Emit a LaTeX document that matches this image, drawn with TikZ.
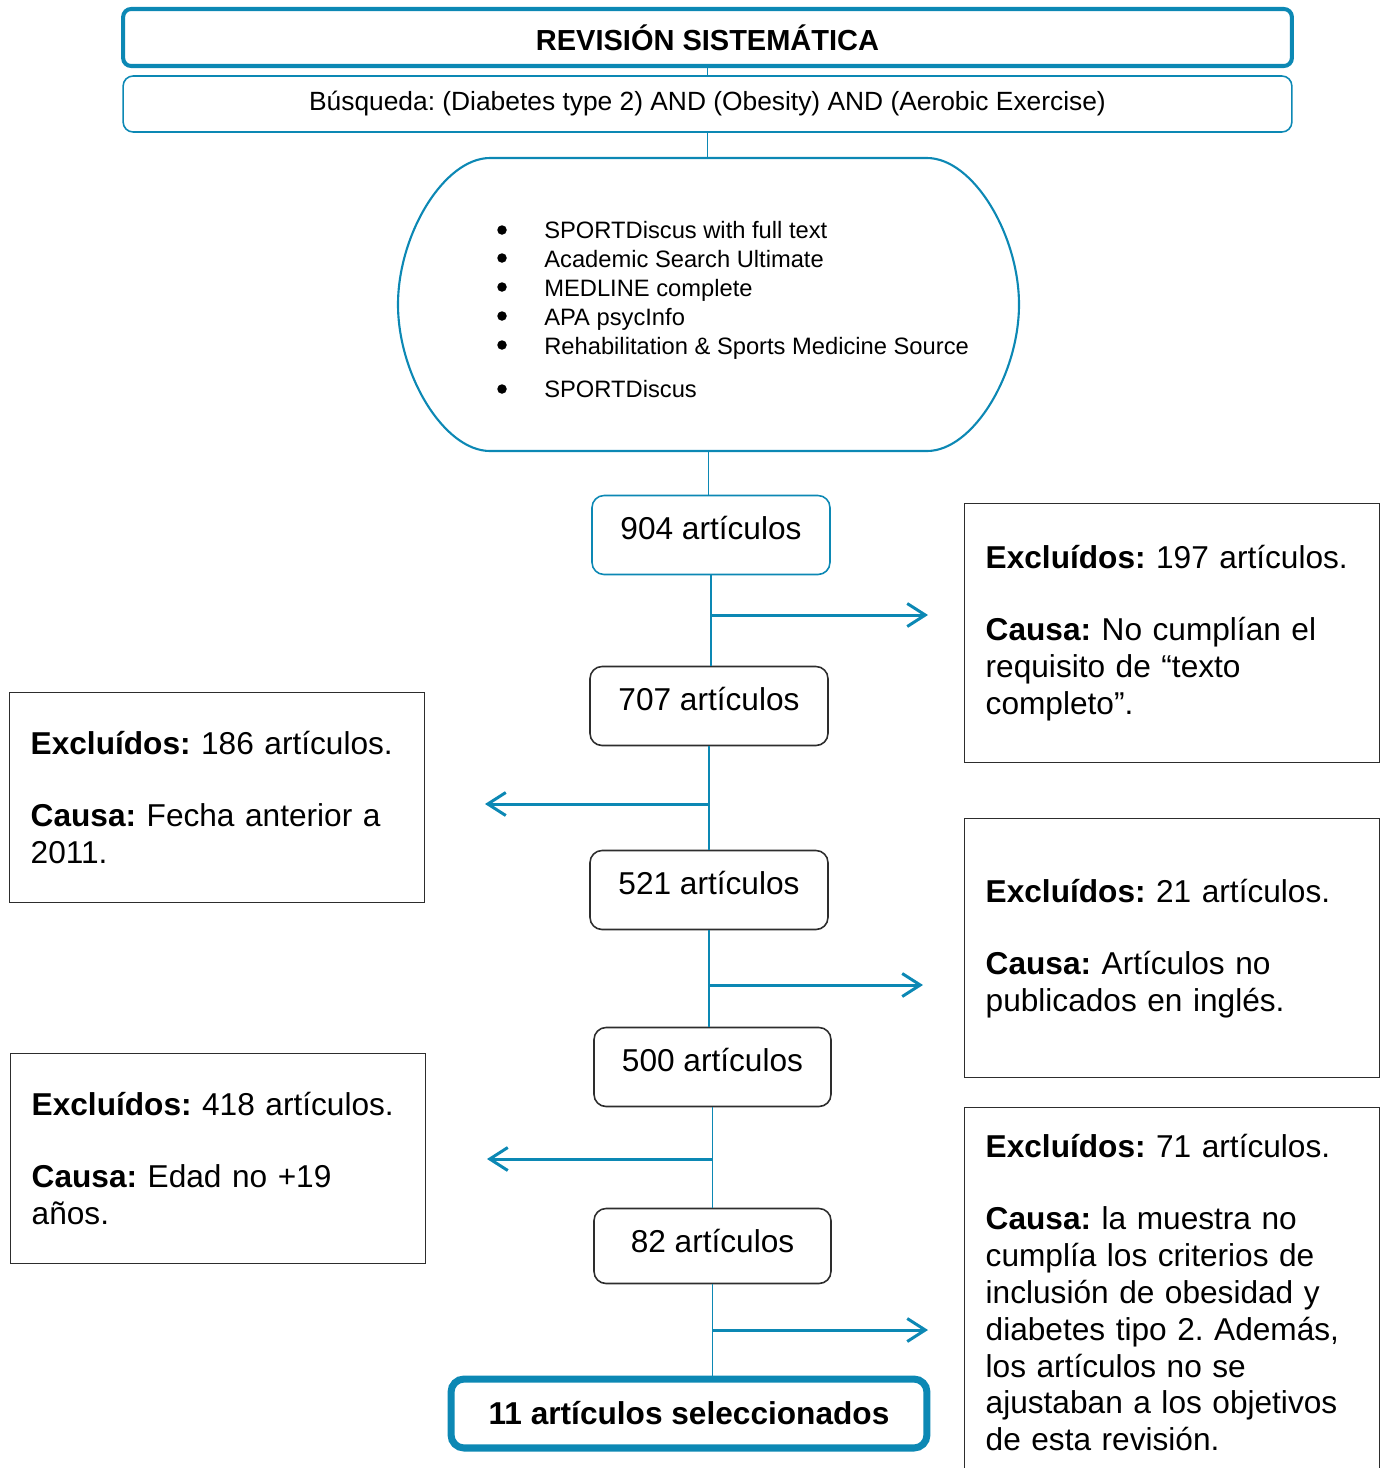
\documentclass[tikz,border=0pt]{standalone}
\usepackage{fontspec}
\setmainfont{Liberation Sans}
\usetikzlibrary{arrows.meta}
\frenchspacing

\definecolor{prismablue}{RGB}{12,136,180}
\definecolor{boxgray}{RGB}{45,45,45}

\tikzset{
	titlebox/.style={draw=prismablue, line width=2.3pt, rounded corners=0.16cm, minimum width=23.38cm, minimum height=1.14cm, inner sep=0pt, font=\fontsize{16.5}{19}\selectfont\bfseries},
	searchbox/.style={draw=prismablue, line width=0.9pt, rounded corners=0.2cm, minimum width=23.38cm, minimum height=1.12cm, inner sep=0pt, font=\fontsize{15}{18}\selectfont},
	dbshape/.style={minimum width=12.42cm, minimum height=5.86cm, inner sep=0pt},
	listtext/.style={align=left, inner sep=0pt, font=\fontsize{13.5}{16.4}\selectfont},
	countbox/.style={draw=boxgray, line width=0.9pt, rounded corners=0.24cm, minimum width=4.76cm, inner sep=0pt, text height=0.88cm, text depth=0.7cm, font=\fontsize{18}{21}\selectfont},
	finalbox/.style={draw=prismablue, line width=4pt, rounded corners=0.26cm, minimum width=9.52cm, minimum height=1.38cm, inner sep=0pt, font=\fontsize{18}{21}\selectfont\bfseries},
	excbox/.style={draw=boxgray, line width=0.8pt, anchor=north west, minimum width=8.3cm, inner xsep=0.42cm, inner ysep=0pt, text width=7.46cm, align=left, font=\fontsize{18}{21}\selectfont},
	trunk/.style={prismablue, line width=1pt},
	outarrow/.style={prismablue, line width=1.7pt, -{Straight Barb[length=0.36cm, width=0.46cm]}},
}

\begin{document}
\begin{tikzpicture}[x=0.02cm, y=-0.02cm]
		
		\useasboundingbox (0,0) rectangle (1386,1468);
		
		\node[titlebox] (T) at (707.5,37.5) {REVISIÓN SISTEMÁTICA};
		\node[searchbox] (S) at (707.5,104) {Búsqueda: (Diabetes type 2) AND (Obesity) AND (Aerobic Exercise)};
		\node[dbshape] (L) at (708.5,304.5) {};
		\node[listtext, anchor=west] (l) at (544,310) {SPORTDiscus with full text\\ Academic Search Ultimate\\ MEDLINE complete\\ APA psycInfo\\ Rehabilitation \& Sports Medicine Source\\[8.5pt] SPORTDiscus};
		
		\foreach \y in {230,258,287,316,345,389}
			\fill (502,\y) circle[radius=0.095cm];
		
		\draw[prismablue, line width=1.2pt] (490,158) -- (927,158) .. controls (973,158) and (1019,234.5) .. (1019,304.5) .. controls (1019,374.5) and (973,451) .. (927,451) -- (490,451) .. controls (444,451) and (398,374.5) .. (398,304.5) .. controls (398,234.5) and (444,158) .. (490,158) -- cycle;
		
		\node[countbox, draw=prismablue] (A) at (711,535) {904 artículos};
		\node[countbox] (B) at (709,706) {707 artículos};
		\node[countbox] (C) at (709,890) {521 artículos};
		\node[countbox, minimum width=4.74cm] (D) at (712.5,1067) {500 artículos};
		\node[countbox, minimum width=4.74cm, text depth=0.62cm] (E) at (712.5,1246) {82 artículos};
		\node[finalbox] (F) at (689,1413.5) {11 artículos seleccionados};
		
		\node[excbox, minimum height=5.18cm] (G) at (964,503) {\textbf{Excluídos:} 197 artículos.\\[20pt] \textbf{Causa:} No cumplían el\\ requisito de “texto\\ completo”.};
		\node[excbox, minimum height=4.2cm] (H) at (9,692) {\textbf{Excluídos:} 186 artículos.\\[20pt] \textbf{Causa:} Fecha anterior a\\ 2011.};
		\node[excbox, minimum height=5.18cm] (I) at (964,818) {\textbf{Excluídos:} 21 artículos.\\[20pt] \textbf{Causa:} Artículos no\\ publicados en inglés.};
		\node[excbox, minimum height=4.2cm] (J) at (10,1053) {\textbf{Excluídos:} 418 artículos.\\[20pt] \textbf{Causa:} Edad no +19\\ años.};
		\node[excbox, minimum height=7.4cm] (K) at (964,1107) {\textbf{Excluídos:} 71 artículos.\\[20pt] \textbf{Causa:} la muestra no\\ cumplía los criterios de\\ inclusión de obesidad y\\ diabetes tipo 2. Además,\\ los artículos no se\\ ajustaban a los objetivos\\ de esta revisión.};
		
		\draw[trunk] (T.south) -- (S.north);
		\draw[trunk] (S.south) -- (S.south |- L.north);
		\draw[trunk] (L.south) -- (L.south |- A.north);
		\draw[trunk] (A.south) -- (A.south |- B.north);
		\draw[trunk] (B.south) -- (B.south |- C.north);
		\draw[trunk] (C.south) -- (C.south |- D.north);
		\draw[trunk] (D.south) -- (D.south |- E.north);
		\draw[trunk] (E.south) -- (E.south |- F.north);
		
		\coordinate (g) at (928,615);
		\coordinate (h) at (485,804);
		\coordinate (i) at (923,985);
		\coordinate (j) at (487,1159);
		\coordinate (k) at (928,1330);
		
		\draw[outarrow] (A.south |- g) -- (g);
		\draw[outarrow] (B.south |- h) -- (h);
		\draw[outarrow] (C.south |- i) -- (i);
		\draw[outarrow] (D.south |- j) -- (j);
		\draw[outarrow] (E.south |- k) -- (k);
		
	\end{tikzpicture}
\end{document}
